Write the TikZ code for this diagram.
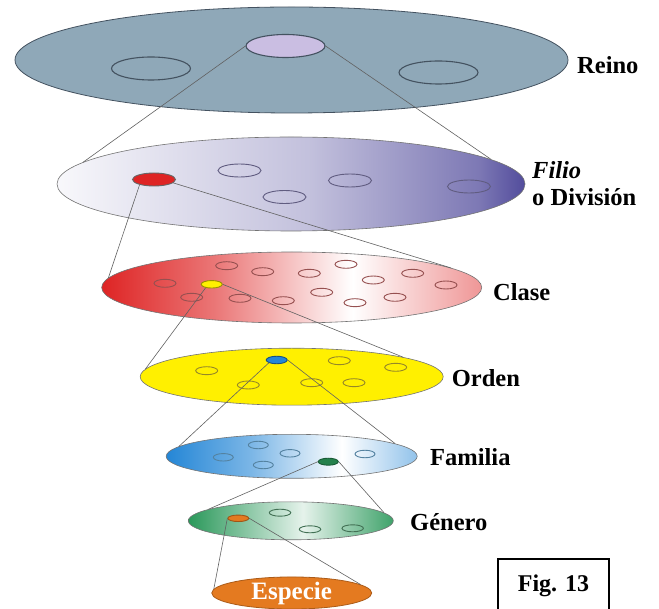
\documentclass[tikz,border=0pt]{standalone}
\usepackage{fontspec}
\setmainfont{Liberation Serif}
\usepackage{tikz}
\usetikzlibrary{shapes.geometric, positioning}

\definecolor{reinoblue}{RGB}{143,168,184}
\definecolor{reinoline}{RGB}{68,82,96}
\definecolor{lilac}{RGB}{202,190,226}
\definecolor{filioviolet}{RGB}{82,76,156}
\definecolor{filioline}{RGB}{96,92,128}
\definecolor{clasered}{RGB}{222,36,36}
\definecolor{claseline}{RGB}{150,80,80}
\definecolor{ordenyellow}{RGB}{255,240,0}
\definecolor{ordenline}{RGB}{150,136,40}
\definecolor{familiablue}{RGB}{36,134,214}
\definecolor{familialine}{RGB}{84,130,160}
\definecolor{generogreen}{RGB}{42,152,90}
\definecolor{generoline}{RGB}{66,112,84}
\definecolor{especieorange}{RGB}{228,122,32}

\pgfdeclarehorizontalshading{filioshade}{100bp}{color(0bp)=(white!96!filioviolet); color(25bp)=(white!96!filioviolet); color(52bp)=(filioviolet!35!white); color(70bp)=(filioviolet!75!white); color(75bp)=(filioviolet); color(100bp)=(filioviolet)}
\pgfdeclarehorizontalshading{claseshade}{100bp}{color(0bp)=(clasered); color(25bp)=(clasered); color(40bp)=(clasered!62!white); color(58bp)=(white); color(75bp)=(clasered!48!white); color(100bp)=(clasered!48!white)}
\pgfdeclarehorizontalshading{familiashade}{100bp}{color(0bp)=(familiablue); color(25bp)=(familiablue); color(42bp)=(familiablue!60!white); color(60bp)=(white); color(75bp)=(familiablue!50!white); color(100bp)=(familiablue!50!white)}
\pgfdeclarehorizontalshading{generoshade}{100bp}{color(0bp)=(generogreen); color(25bp)=(generogreen); color(53bp)=(white!88!generogreen); color(75bp)=(generogreen!90!white); color(100bp)=(generogreen!90!white)}

\newcommand{\rankfont}{\fontsize{24.5}{27}\selectfont\bfseries}

\begin{document}
\begin{tikzpicture}[x=1pt, y=-1pt,
        disc/.style={ellipse, draw=black!55, line width=0.6pt, inner sep=0pt},
        cell/.style={ellipse, line width=0.9pt, inner sep=0pt, minimum width=22pt, minimum height=8pt},
        pick/.style={cell, minimum width=21pt, minimum height=7.5pt},
        link/.style={draw=black!62, line width=0.6pt},
        rank/.style={anchor=west, inner sep=0pt, font=\rankfont, align=left},
        figbox/.style={rectangle, draw, line width=1.2pt, inner sep=0pt, font=\fontsize{24}{26}\selectfont\bfseries}
    ]
        \useasboundingbox (0,0) rectangle (659,609);

        % Reino
        \node[disc, draw=reinoline, line width=0.8pt, fill=reinoblue, minimum width=553pt, minimum height=106pt] (reino) at (291.5,60) {};
        \node[cell, draw=reinoline, line width=1.1pt, minimum width=79pt, minimum height=23pt] (reino_a) at (151,68.5) {};
        \node[cell, draw=reinoline, line width=1.1pt, fill=lilac, minimum width=79pt, minimum height=23pt] (reino_b) at (285.5,46) {};
        \node[cell, draw=reinoline, line width=1.1pt, minimum width=79pt, minimum height=23pt] (reino_c) at (438.5,72.5) {};

        % Filio o Division
        \node[disc, shading=filioshade, minimum width=468pt, minimum height=94pt] (filio) at (291,184) {};
        \node[cell, draw=black!60, fill=clasered, minimum width=43pt, minimum height=13pt] (filio_a) at (154,179.5) {};
        \node[cell, draw=filioline, minimum width=43pt, minimum height=13pt] (filio_b) at (239.5,170.5) {};
        \node[cell, draw=filioline, minimum width=43pt, minimum height=13pt] (filio_c) at (284.5,197) {};
        \node[cell, draw=filioline, minimum width=43pt, minimum height=13pt] (filio_d) at (350,180.5) {};
        \node[cell, draw=filioline, minimum width=43pt, minimum height=13pt] (filio_e) at (469,186.5) {};

        % Clase
        \node[disc, shading=claseshade, minimum width=380pt, minimum height=71pt] (clase) at (291.7,287.5) {};
        \node[cell, draw=claseline] (clase_1) at (165,283.3) {};
        \node[cell, draw=claseline] (clase_2) at (226.7,265.7) {};
        \node[cell, draw=claseline] (clase_3) at (262.7,271.7) {};
        \node[cell, draw=claseline] (clase_4) at (191.7,297.3) {};
        \node[cell, draw=claseline] (clase_5) at (240,298.3) {};
        \node[cell, draw=claseline] (clase_6) at (283.3,300.7) {};
        \node[cell, draw=claseline] (clase_7) at (309.3,273.3) {};
        \node[cell, draw=claseline] (clase_8) at (346,264.3) {};
        \node[cell, draw=claseline] (clase_9) at (321.7,292.3) {};
        \node[cell, draw=claseline] (clase_10) at (373.3,280) {};
        \node[cell, draw=claseline] (clase_11) at (355,302.7) {};
        \node[cell, draw=claseline] (clase_12) at (395,297.3) {};
        \node[cell, draw=claseline] (clase_13) at (412.7,273.3) {};
        \node[cell, draw=claseline] (clase_14) at (446,285) {};
        \node[pick, draw=ordenyellow!60!black, fill=ordenyellow] (clase_y) at (211.7,284.3) {};

        % Orden
        \node[disc, fill=ordenyellow, minimum width=303pt, minimum height=57pt] (orden) at (291.7,376.7) {};
        \node[cell, draw=ordenline] (orden_1) at (206.7,370.7) {};
        \node[cell, draw=ordenline] (orden_2) at (339.3,360.7) {};
        \node[cell, draw=ordenline] (orden_3) at (395.7,367.3) {};
        \node[cell, draw=ordenline] (orden_4) at (248.3,385) {};
        \node[cell, draw=ordenline] (orden_5) at (311.7,382.7) {};
        \node[cell, draw=ordenline] (orden_6) at (354,382.7) {};
        \node[pick, draw=familiablue!60!black, fill=familiablue] (orden_b) at (276.7,360) {};

        % Familia
        \node[disc, shading=familiashade, minimum width=251pt, minimum height=44pt] (familia) at (291.7,456.3) {};
        \node[cell, draw=familialine, minimum width=20pt, minimum height=7.5pt] (familia_1) at (258.3,445) {};
        \node[cell, draw=familialine, minimum width=20pt, minimum height=7.5pt] (familia_2) at (290,453.3) {};
        \node[cell, draw=familialine, minimum width=20pt, minimum height=7.5pt] (familia_3) at (223.3,457.3) {};
        \node[cell, draw=familialine, minimum width=20pt, minimum height=7.5pt] (familia_4) at (263.3,465) {};
        \node[cell, draw=familialine, minimum width=20pt, minimum height=7.5pt] (familia_5) at (365,454) {};
        \node[pick, draw=generogreen!60!black, fill=generogreen!85!black, minimum width=20pt, minimum height=7pt] (familia_g) at (328.3,461.7) {};

        % Genero
        \node[disc, shading=generoshade, minimum width=205pt, minimum height=38pt] (genero) at (290.8,520.8) {};
        \node[cell, draw=generoline, minimum width=21.5pt, minimum height=7pt] (genero_1) at (280,512.7) {};
        \node[cell, draw=generoline, minimum width=21.5pt, minimum height=7pt] (genero_2) at (310,529.3) {};
        \node[cell, draw=generoline, minimum width=21.5pt, minimum height=7pt] (genero_3) at (352.7,528.3) {};
        \node[pick, draw=especieorange!70!black, fill=especieorange, minimum width=21pt, minimum height=6.5pt] (genero_o) at (238.3,518.3) {};

        % Especie
        \node[disc, draw=especieorange!75!black, line width=0.8pt, fill=especieorange, minimum width=160pt, minimum height=31.5pt, text=white, font=\fontsize{25}{27}\selectfont\bfseries] (especie) at (291.7,593) {Especie};

        % labels
        \node[rank] (l_reino) at (577,65) {Reino};
        \node[rank] (l_filio) at (532,184) {\textit{Filio}\\o División};
        \node[rank] (l_clase) at (493,291.7) {Clase};
        \node[rank] (l_orden) at (451.7,378.3) {Orden};
        \node[rank] (l_familia) at (430,457.3) {Familia};
        \node[rank] (l_genero) at (410,521.7) {Género};

        \node[figbox, minimum width=111pt, minimum height=53pt] (fig) at (553.5,585.5) {Fig. 13};

        % zoom lines
        \draw[link] (reino_b.west) -- (filio.174);
        \draw[link] (reino_b.east) -- (filio.7);
        \draw[link] (filio_a.200) -- (clase.177);
        \draw[link] (filio_a.350) -- (clase.7);
        \draw[link] (clase_y.210) -- (orden.177);
        \draw[link] (clase_y.east) -- (orden.10);
        \draw[link] (orden_b.200) -- (familia.175.5);
        \draw[link] (orden_b.east) -- (familia.7);
        \draw[link] (familia_g.west) -- (genero.172);
        \draw[link] (familia_g.east) -- (genero.5.5);
        \draw[link] (genero_o.west) -- (especie.177);
        \draw[link] (genero_o.east) -- (especie.7);

    \end{tikzpicture}
\end{document}
